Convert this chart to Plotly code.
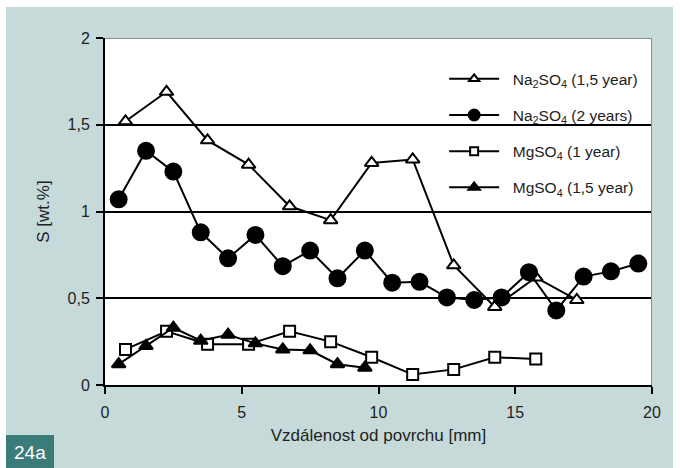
import plotly.graph_objects as go

# ---- data ----
x_na15 = [0.75, 2.25, 3.75, 5.25, 6.75, 8.25, 9.75, 11.25, 12.75, 14.25, 15.75, 17.25]
y_na15 = [1.52, 1.69, 1.41, 1.27, 1.03, 0.95, 1.28, 1.30, 0.69, 0.45, 0.62, 0.49]

x_na2 = [0.5, 1.5, 2.5, 3.5, 4.5, 5.5, 6.5, 7.5, 8.5, 9.5, 10.5, 11.5, 12.5, 13.5,
         14.5, 15.5, 16.5, 17.5, 18.5, 19.5]
y_na2 = [1.07, 1.35, 1.23, 0.88, 0.73, 0.865, 0.685, 0.775, 0.615, 0.775, 0.59, 0.595,
         0.505, 0.49, 0.505, 0.65, 0.43, 0.625, 0.655, 0.70]

x_mg1 = [0.75, 2.25, 3.75, 5.25, 6.75, 8.25, 9.75, 11.25, 12.75, 14.25, 15.75]
y_mg1 = [0.205, 0.31, 0.235, 0.235, 0.31, 0.25, 0.16, 0.06, 0.09, 0.16, 0.15]

x_mg15 = [0.5, 1.5, 2.5, 3.5, 4.5, 5.5, 6.5, 7.5, 8.5, 9.5]
y_mg15 = [0.12, 0.225, 0.33, 0.255, 0.29, 0.24, 0.205, 0.20, 0.12, 0.10]

names = ["Na<sub>2</sub>SO<sub>4</sub> (1,5 year)",
         "Na<sub>2</sub>SO<sub>4</sub> (2 years)",
         "MgSO<sub>4</sub> (1 year)",
         "MgSO<sub>4</sub> (1,5 year)"]

y_tickvals = [0, 0.5, 1, 1.5, 2]
y_ticktext = ["0", "0,5", "1", "1,5", "2"]
x_tickvals = [0, 5, 10, 15, 20]
x_ticktext = ["0", "5", "10", "15", "20"]

BG = "#c6dada"
TEAL = "#3b7b78"
FONT = "Liberation Sans, Arial, sans-serif"

fig = go.Figure()
specs = [
    (x_na15, y_na15, "triangle-up", "white", 12, 9),
    (x_na2, y_na2, "circle", "black", 16, 11),
    (x_mg1, y_mg1, "square", "white", 11, 8),
    (x_mg15, y_mg15, "triangle-up", "black", 12, 10),
]
for i, ((xs, ys, sym, fill, sz, lsz), nm) in enumerate(zip(specs, names)):
    fig.add_trace(go.Scatter(
        x=xs, y=ys, name=nm, mode="lines+markers", showlegend=False,
        line=dict(color="black", width=2),
        marker=dict(symbol=sym, size=sz, color=fill,
                    line=dict(color="black", width=2)),
    ))
    # legend entry (smaller marker, as in the reference)
    fig.add_trace(go.Scatter(
        x=[None], y=[None], name="\u00a0\u00a0" + nm, mode="lines+markers",
        legendgroup=str(i), showlegend=True,
        line=dict(color="black", width=2),
        marker=dict(symbol=sym, size=lsz, color=fill,
                    line=dict(color="black", width=2)),
    ))

L, R, T, B = 105, 28, 38, 83
W, H = 680, 468
pw, ph = W - L - R, H - T - B

def px(x):
    return (x - L) / pw

def py(y):
    return (H - B - y) / ph

shapes = [
    # white outer margins
    dict(type="rect", xref="paper", yref="paper", x0=px(0), x1=px(6), y0=py(H), y1=py(0),
         fillcolor="white", line_width=0),
    dict(type="rect", xref="paper", yref="paper", x0=px(0), x1=px(W), y0=py(7), y1=py(0),
         fillcolor="white", line_width=0),
    dict(type="rect", xref="paper", yref="paper", x0=px(673), x1=px(W), y0=py(H), y1=py(0),
         fillcolor="white", line_width=0),
    # 24a box
    dict(type="rect", xref="paper", yref="paper", x0=px(6), x1=px(54), y0=py(H), y1=py(435),
         fillcolor=TEAL, line_width=0),
    # gray top and right borders
    dict(type="line", xref="x", yref="y", x0=0, x1=20, y0=2, y1=2,
         line=dict(color="#8a8a8a", width=2)),
    dict(type="line", xref="x", yref="y", x0=20, x1=20, y0=0, y1=2,
         line=dict(color="#8a8a8a", width=2)),
]

fig.update_layout(
    width=W, height=H,
    margin=dict(l=L, r=R, t=T, b=B),
    paper_bgcolor=BG, plot_bgcolor="white",
    font=dict(family=FONT, size=14, color="#222"),
    showlegend=True,
    legend=dict(x=0.62, y=0.93, xanchor="left", yanchor="top",
                bgcolor="rgba(0,0,0,0)", traceorder="grouped",
                tracegroupgap=13, itemwidth=50,
                font=dict(size=15.5, color="#222")),
    shapes=shapes,
    annotations=[dict(text="24a", xref="paper", yref="paper", x=px(30), y=py(452),
                      xanchor="center", yanchor="middle", showarrow=False,
                      font=dict(color="white", size=19, family=FONT))],
    xaxis=dict(range=[0, 20], tickvals=x_tickvals, ticktext=x_ticktext,
               showgrid=False, zeroline=False, showline=True, linecolor="black",
               linewidth=2, ticks="outside", ticklen=7, tickwidth=2, tickcolor="black",
               tickfont=dict(size=16), ticklabelstandoff=5,
               title=dict(text="Vzdálenost od povrchu [mm]", standoff=9,
                          font=dict(size=17)),
               fixedrange=True),
    yaxis=dict(range=[0, 2], tickvals=y_tickvals, ticktext=y_ticktext,
               showgrid=True, gridcolor="black", gridwidth=2, zeroline=False,
               showline=True, linecolor="black", linewidth=2, ticks="outside",
               ticklen=7, tickwidth=2, tickcolor="black",
               tickfont=dict(size=16), ticklabelstandoff=3,
               title=dict(text="S [wt.%]", standoff=14, font=dict(size=17)),
               fixedrange=True),
)

fig.write_html("out.html")
